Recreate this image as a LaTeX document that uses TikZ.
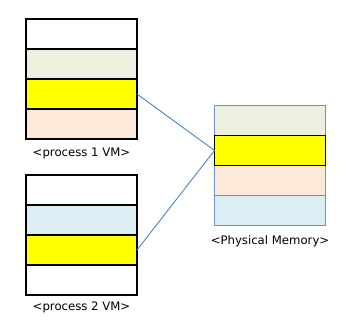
\documentclass[tikz,border=0pt]{standalone}
\usepackage{fontspec}
\setmainfont{DejaVu Sans}
\usetikzlibrary{positioning}
\definecolor{Dark}{HTML}{000000}
\definecolor{Link}{HTML}{4F81BD}
\definecolor{Frame}{HTML}{6F93C6}
\definecolor{Olive}{HTML}{EBF1DE}
\definecolor{Peach}{HTML}{FDE9D9}
\definecolor{Sky}{HTML}{DAEEF3}
\definecolor{Mark}{HTML}{FFFF00}
\tikzset{
    cell/.style={rectangle, draw=Dark, line width=1.1pt, minimum width=111pt, minimum height=30pt, inner sep=0pt, outer sep=0pt},
    hotcell/.style={cell, fill=Mark, line width=1.6pt},
    memcell/.style={cell, draw=Frame, line width=1.1pt},
    caption/.style={inner sep=0pt, font=\fontsize{11.7}{14}\selectfont},
    link/.style={draw=Link, line width=0.9pt},
}
\begin{document}
\begin{tikzpicture}
                \useasboundingbox (0,0) rectangle (348pt,322pt);
                % Memoria virtuale processo 1
                \node[cell, fill=white] (p1a) at (81.5pt,288pt) {};
                \node[cell, fill=Olive, below=0pt of p1a] (p1b) {};
                \node[cell, fill=Peach, below=30pt of p1b] (p1d) {};
                \node[hotcell, below=0pt of p1b] (p1c) {};
                \node[caption, below=9pt of p1d] (l1) {<process 1 VM>};

                % Memoria virtuale processo 2
                \node[cell, fill=white] (p2a) at (81.5pt,132pt) {};
                \node[cell, fill=Sky, below=0pt of p2a] (p2b) {};
                \node[cell, fill=white, below=30pt of p2b] (p2d) {};
                \node[hotcell, below=0pt of p2b] (p2c) {};
                \node[caption, below=7pt of p2d] (l2) {<process 2 VM>};

                % Memoria fisica
                \node[memcell, fill=Olive] (m1) at (270pt,201.5pt) {};
                \node[memcell, fill=Peach, below=30pt of m1] (m3) {};
                \node[memcell, fill=Sky, below=0pt of m3] (m4) {};
                \node[hotcell, below=0pt of m1] (m2) {};
                \node[caption, below=10pt of m4] (l3) {<Physical Memory>};

                % Collegamenti pagine condivise
                \draw[link] (p1c.east) -- (m2.west);
                \draw[link] (p2c.east) -- (m2.west);
            \end{tikzpicture}
\end{document}
